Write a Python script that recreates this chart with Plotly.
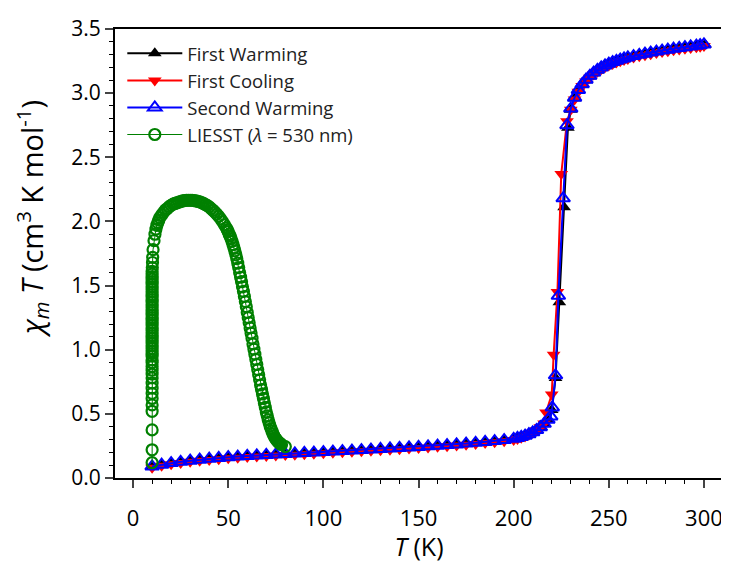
import plotly.graph_objects as go

# ---------------- data ----------------
fw_T = [10, 15, 20, 25, 30, 35, 40, 45, 50, 55, 60, 65, 70, 75, 80, 85, 90, 95, 100,
        105, 110, 115, 120, 125, 130, 135, 140, 145, 150, 155, 160, 165, 170, 175, 180,
        185, 190, 195, 200, 202, 204, 206, 208, 210, 212, 214, 216, 218, 220, 222, 224,
        226.5, 228.5, 230, 232, 234, 236, 238, 240, 242, 244, 246, 248, 250, 252, 254,
        256, 258, 260, 263, 266, 269, 272, 275, 278, 281, 284, 287, 290, 293, 296, 298, 300.5]
fw_chi = [0.090, 0.105, 0.117, 0.127, 0.136, 0.144, 0.151, 0.157, 0.163, 0.168, 0.173,
          0.177, 0.181, 0.185, 0.189, 0.192, 0.196, 0.199, 0.203, 0.207, 0.211, 0.215,
          0.220, 0.226, 0.232, 0.236, 0.240, 0.243, 0.246, 0.250, 0.254, 0.259, 0.264,
          0.270, 0.276, 0.283, 0.290, 0.298, 0.307, 0.314, 0.322, 0.332, 0.344, 0.358,
          0.376, 0.398, 0.425, 0.460, 0.530, 0.780, 1.370, 2.110, 2.730, 2.870, 2.960,
          3.020, 3.065, 3.100, 3.130, 3.155, 3.177, 3.196, 3.212, 3.226, 3.238, 3.249,
          3.259, 3.268, 3.276, 3.287, 3.297, 3.306, 3.314, 3.322, 3.330, 3.337, 3.344,
          3.350, 3.356, 3.362, 3.368, 3.372, 3.380]

fc_T = [10, 15, 20, 25, 30, 35, 40, 45, 50, 55, 60, 65, 70, 75, 80, 85, 90, 95, 100,
        105, 110, 115, 120, 125, 130, 135, 140, 145, 150, 155, 160, 165, 170, 175, 180,
        185, 190, 195, 200, 202, 204, 206, 208, 210, 212, 214, 216, 217, 220, 221, 223,
        225, 228, 230, 232, 234, 236, 238, 240, 242, 244, 246, 248, 250, 252, 254,
        256, 258, 260, 263, 266, 269, 272, 275, 278, 281, 284, 287, 290, 293, 296, 298, 300]
fc_chi = [0.080, 0.095, 0.107, 0.117, 0.126, 0.134, 0.141, 0.147, 0.153, 0.158, 0.163,
          0.167, 0.171, 0.175, 0.179, 0.182, 0.186, 0.189, 0.193, 0.197, 0.201, 0.205,
          0.209, 0.213, 0.217, 0.221, 0.225, 0.229, 0.233, 0.238, 0.243, 0.248, 0.253,
          0.259, 0.265, 0.272, 0.279, 0.287, 0.296, 0.304, 0.313, 0.324, 0.337, 0.352,
          0.372, 0.396, 0.425, 0.510, 0.650, 0.960, 1.450, 2.370, 2.780, 2.870, 2.950,
          3.010, 3.055, 3.090, 3.120, 3.145, 3.167, 3.186, 3.202, 3.216, 3.228, 3.239,
          3.249, 3.258, 3.266, 3.277, 3.287, 3.296, 3.304, 3.312, 3.320, 3.327, 3.334,
          3.340, 3.346, 3.352, 3.358, 3.362, 3.368]

sw_T = [10, 15, 20, 25, 30, 35, 40, 45, 50, 55, 60, 65, 70, 75, 80, 85, 90, 95, 100,
        105, 110, 115, 120, 125, 130, 135, 140, 145, 150, 155, 160, 165, 170, 175, 180,
        185, 190, 195, 200, 202, 204, 206, 208, 210, 212, 214, 216, 218, 219.5, 220.3, 222,
        223.5, 226, 228, 230, 232, 234, 236, 238, 240, 242, 244, 246, 248, 250, 252, 254,
        256, 258, 260, 263, 266, 269, 272, 275, 278, 281, 284, 287, 290, 293, 296, 298, 300]
sw_chi = [0.090, 0.104, 0.116, 0.126, 0.135, 0.143, 0.150, 0.156, 0.162, 0.167, 0.172,
          0.176, 0.180, 0.184, 0.188, 0.191, 0.195, 0.198, 0.202, 0.206, 0.210, 0.214,
          0.218, 0.222, 0.226, 0.230, 0.234, 0.238, 0.242, 0.247, 0.252, 0.257, 0.262,
          0.268, 0.274, 0.281, 0.288, 0.296, 0.305, 0.312, 0.320, 0.330, 0.342, 0.356,
          0.374, 0.396, 0.423, 0.455, 0.480, 0.550, 0.800, 1.420, 2.180, 2.750, 2.880,
          2.965, 3.025, 3.070, 3.105, 3.135, 3.160, 3.182, 3.200, 3.216, 3.230, 3.242,
          3.252, 3.262, 3.270, 3.278, 3.289, 3.299, 3.308, 3.316, 3.324, 3.332, 3.339,
          3.346, 3.352, 3.358, 3.364, 3.370, 3.374, 3.380]

liesst_T = [10, 10, 10, 10, 10, 10, 10, 10, 10, 10, 10, 10, 10, 10, 10, 10, 10, 10, 10,
            10, 10, 10, 10, 10, 10, 10, 10, 10, 10, 10, 10, 10, 10, 10, 10, 10, 10, 10,
            10, 10, 10, 10, 10, 10, 10, 10, 10, 10, 10, 10.1, 10.2, 10.3,
            10.5, 11, 11.5, 12, 12.5, 13, 13.5, 14, 15, 16, 17, 18, 19, 20, 21, 22, 23,
            24, 25, 26, 27, 28, 29, 30, 31, 32, 33, 34, 35, 36, 37, 38, 39, 40, 41, 42,
            43, 44, 45, 46, 47, 48, 49, 49.5, 50, 50.5, 51, 51.5, 52, 52.5, 53, 53.5,
            54, 54.5, 55, 55.5, 56, 56.5, 57, 57.5, 58, 58.5, 59, 59.5, 60, 60.5, 61,
            61.5, 62, 62.5, 63, 63.5, 64, 64.5, 65, 65.5, 66, 66.5, 67, 67.5, 68, 68.5,
            69, 69.5, 70, 70.5, 71, 71.5, 72, 72.5, 73, 73.5, 74, 74.5, 75, 75.5, 76,
            76.5, 77, 77.5, 78, 80]
liesst_chi = [0.12, 0.22, 0.375, 0.52, 0.57, 0.62, 0.66, 0.70, 0.74, 0.78, 0.81, 0.84,
              0.87, 0.90, 0.92, 0.95, 0.97, 0.99, 1.01, 1.03, 1.05, 1.07, 1.09, 1.11,
              1.13, 1.15, 1.17, 1.19, 1.21, 1.23, 1.25, 1.27, 1.29, 1.31, 1.33, 1.35,
              1.37, 1.39, 1.41, 1.43, 1.45, 1.47, 1.49, 1.51, 1.53, 1.55, 1.57, 1.59,
              1.61, 1.64, 1.68, 1.72,
              1.78, 1.85, 1.90, 1.94, 1.97, 1.99, 2.01, 2.03, 2.05, 2.07, 2.09, 2.10,
              2.115, 2.125, 2.135, 2.14, 2.145, 2.15, 2.155, 2.16, 2.162, 2.165, 2.165,
              2.165, 2.165, 2.162, 2.16, 2.157, 2.153, 2.147, 2.14, 2.132, 2.123, 2.113,
              2.10, 2.087, 2.073, 2.057, 2.04, 2.02, 1.998, 1.974, 1.95, 1.935, 1.92,
              1.90, 1.885, 1.865, 1.845, 1.82, 1.795, 1.77, 1.74, 1.71, 1.675, 1.64,
              1.60, 1.565, 1.53, 1.49, 1.455, 1.415, 1.375, 1.335, 1.29, 1.25, 1.21,
              1.17, 1.13, 1.09, 1.045, 1.005, 0.965, 0.925, 0.885, 0.845, 0.805, 0.765,
              0.725, 0.69, 0.655, 0.62, 0.585, 0.55, 0.515, 0.485, 0.455, 0.43, 0.405,
              0.385, 0.365, 0.345, 0.33, 0.315, 0.305, 0.295, 0.285, 0.278, 0.272,
              0.266, 0.26, 0.245]

x_ticks = [0, 50, 100, 150, 200, 250, 300]
y_ticks = [0.0, 0.5, 1.0, 1.5, 2.0, 2.5, 3.0, 3.5]

series_names = ["First Warming", "First Cooling", "Second Warming",
                "LIESST (<i>λ</i> = 530 nm)"]
y_title = "<i>χ</i><sub><i>m</i></sub> <i>T</i> (cm<sup>3</sup> K mol<sup>-1</sup>)"
x_title = "<i>T</i> (K)"

FONT = "Open Sans"

fig = go.Figure()
fig.add_trace(go.Scatter(
    x=fw_T, y=fw_chi, mode="lines+markers", name=series_names[0], legendgroup="a",
    line=dict(color="black", width=2),
    marker=dict(symbol="triangle-up", size=12, color="black")))
fig.add_trace(go.Scatter(
    x=fc_T, y=fc_chi, mode="lines+markers", name=series_names[1], legendgroup="b",
    line=dict(color="#ff0000", width=2),
    marker=dict(symbol="triangle-down", size=12, color="#ff0000")))
fig.add_trace(go.Scatter(
    x=sw_T, y=sw_chi, mode="lines+markers", name=series_names[2], legendgroup="c",
    line=dict(color="#0000ff", width=2),
    marker=dict(symbol="triangle-up-open", size=12, color="#0000ff",
                line=dict(width=2, color="#0000ff"))))
fig.add_trace(go.Scatter(
    x=liesst_T, y=liesst_chi, mode="lines+markers", name=series_names[3], legendgroup="d",
    line=dict(color="#008000", width=1),
    marker=dict(symbol="circle-open", size=11, color="#008000",
                line=dict(width=2.2, color="#008000"))))

fig.update_layout(
    width=721, height=555,
    margin=dict(l=107, r=6, t=21, b=85, autoexpand=False),
    paper_bgcolor="white", plot_bgcolor="white",
    font=dict(family=FONT, color="black", size=19),
    showlegend=True,
    legend=dict(x=0.012, y=0.987, xanchor="left", yanchor="top",
                font=dict(family=FONT, size=18.5, color="#222"),
                bgcolor="rgba(0,0,0,0)", tracegroupgap=0, itemwidth=55),
    annotations=[dict(text=y_title, xref="paper", yref="paper", x=0, y=0.577,
                      xanchor="center", yanchor="middle", xshift=-83, textangle=-90,
                      showarrow=False, font=dict(family=FONT, size=29, color="black"))],
)
fig.update_xaxes(
    range=[-9.5, 310], tickvals=x_ticks, ticks="outside", ticklen=8, tickwidth=1.5,
    showline=True, linewidth=2, linecolor="black", mirror=True, showgrid=False,
    zeroline=False, tickfont=dict(size=22), automargin=False, ticklabelstandoff=12,
    minor=dict(dtick=10, tick0=0, ticks="outside", ticklen=4, tickwidth=1.2, tickcolor="black"),
    title=dict(text=x_title, font=dict(size=25), standoff=6))
fig.update_yaxes(
    range=[0, 3.5], tickvals=y_ticks, tickformat=".1f", ticks="outside", ticklen=8,
    tickwidth=1.5, showline=True, linewidth=2, linecolor="black", mirror="ticks",
    showgrid=False, zeroline=False, tickfont=dict(size=21), automargin=False,
    minor=dict(dtick=0.1, tick0=0, ticks="outside", ticklen=4, tickwidth=1.2, tickcolor="black"))

fig.write_html("out.html")
